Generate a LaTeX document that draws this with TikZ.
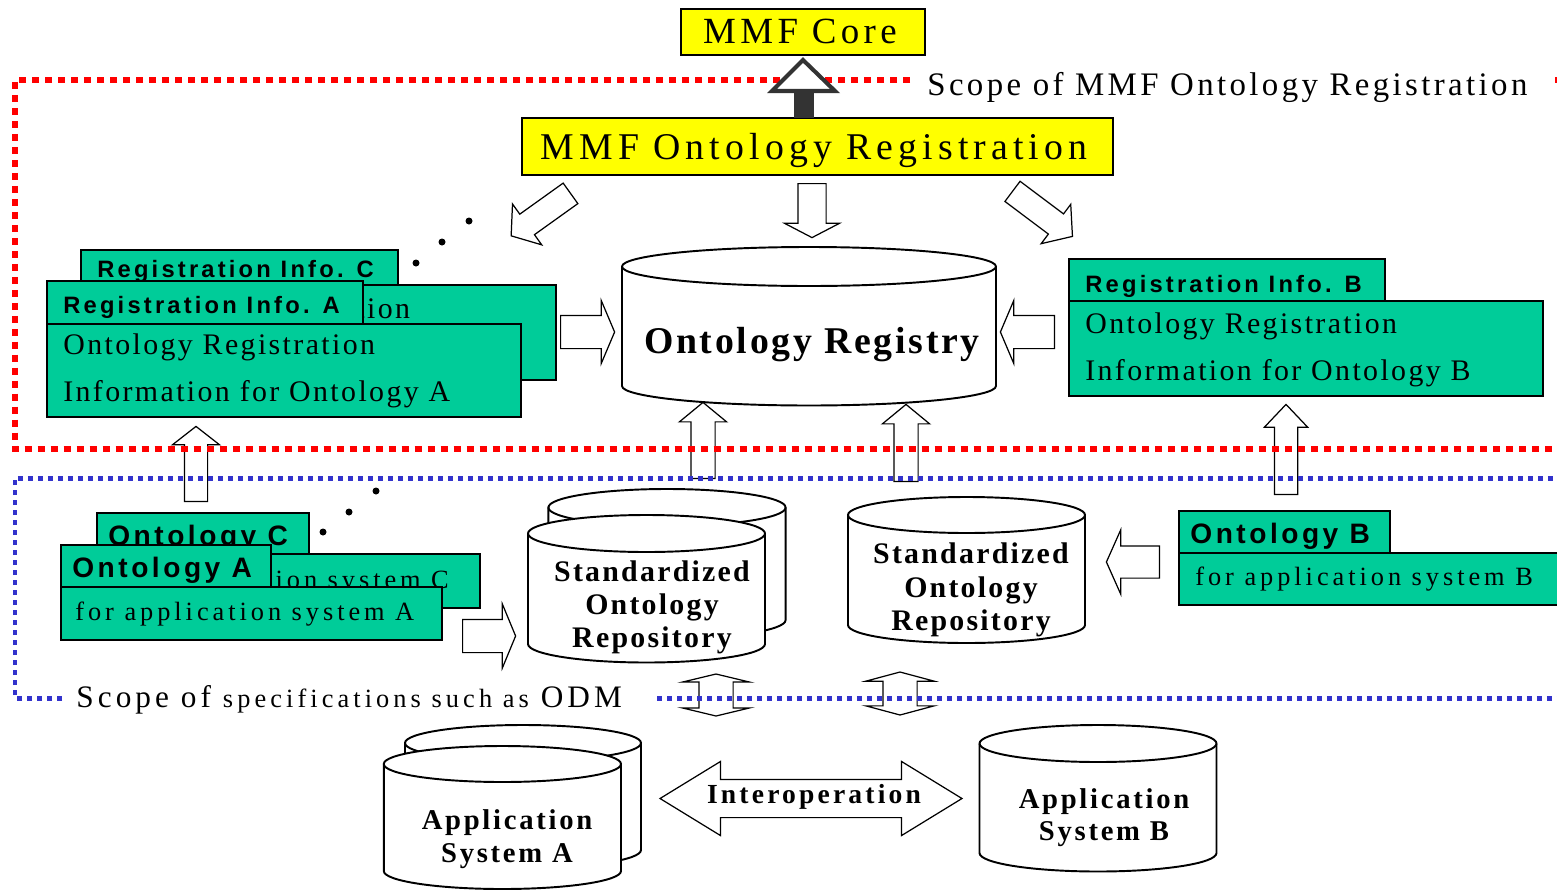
\documentclass[tikz,border=0pt]{standalone}
\usepackage{fontspec}
\setmainfont{Liberation Serif}
\newfontfamily\headfont{Liberation Sans}
\usetikzlibrary{shapes.arrows}

\definecolor{mmfyellow}{RGB}{255,255,0}
\definecolor{infogreen}{RGB}{0,204,153}
\definecolor{scopered}{RGB}{255,0,0}
\definecolor{scopeblue}{RGB}{51,51,204}
\definecolor{coregray}{RGB}{51,51,51}

\newcommand{\spaced}[1]{\addfontfeatures{LetterSpace=#1}}
% can: centre x, top rim y, bottom rim y, x radius, y radius (all in px)
\newcommand{\can}[5]{%
  \draw[canline] (#1-#4,#2) -- (#1-#4,#3)
    arc[start angle=180, end angle=360, x radius=#4*0.02cm, y radius=#5*0.02cm]
    -- (#1+#4,#2)
    arc[start angle=0, end angle=180, x radius=#4*0.02cm, y radius=#5*0.02cm] -- cycle;
  \draw[canline, fill=none] (#1+#4,#2)
    arc[start angle=0, end angle=-180, x radius=#4*0.02cm, y radius=#5*0.02cm];}

\tikzset{
  ybox/.style={draw, line width=1pt, fill=mmfyellow, inner sep=0pt, anchor=north west},
  gbox/.style={draw, line width=1.2pt, fill=infogreen, inner sep=0pt, anchor=north west},
  canline/.style={draw, fill=white, line width=1.1pt},
  ltext/.style={inner sep=0pt, anchor=base west},
  ctext/.style={inner sep=0pt, anchor=base},
  infohead/.style={ltext, font=\headfont\bfseries\fontsize{13.5}{16}\selectfont\spaced{13.5}},
  infobody/.style={ltext, font=\fontsize{17}{20}\selectfont\spaced{8}},
  onthead/.style={ltext, font=\headfont\bfseries\fontsize{16}{19}\selectfont\spaced{12.5}},
  ontbody/.style={ltext, font=\fontsize{15}{18}\selectfont\spaced{15}},
  cantext/.style={ctext, font=\bfseries\fontsize{17}{20}\selectfont\spaced{7.5}},
  apptext/.style={ctext, font=\bfseries\fontsize{16.3}{20}\selectfont\spaced{9.5}},
  barrow/.style n args={5}{single arrow, draw, fill=white, line width=0.7pt,
    inner xsep=0pt, minimum height=#1, inner ysep=#2,
    single arrow head extend=#3, single arrow tip angle=#4, rotate=#5, anchor=tail},
  darrow/.style n args={5}{double arrow, draw, fill=white, line width=0.7pt,
    inner xsep=0pt, minimum height=#1, inner ysep=#2,
    double arrow head extend=#3, double arrow tip angle=#4, rotate=#5},
  reddots/.style={scopered, line width=0.12cm, dash pattern=on 0.14cm off 0.12cm},
  bluedots/.style={scopeblue, line width=0.1cm, dash pattern=on 0.1cm off 0.1cm}
}

\begin{document}
\begin{tikzpicture}[x=0.02cm, y=-0.02cm]
  \useasboundingbox (0,0) rectangle (1557,889);
  \fill[white] (0,0) rectangle (1557,889);
  \clip (0,0) rectangle (1557,889);

  % MMF boxes
  \node[ybox, minimum width=4.88cm, minimum height=0.92cm] (core) at (680,8) {};
  \node[ctext, font=\fontsize{21}{25}\selectfont\spaced{12}] (coretext) at (800,43) {MMF Core};
  \node[ybox, minimum width=11.82cm, minimum height=1.14cm] (mmfor) at (521,117) {};
  \node[ctext, font=\fontsize{21.5}{26}\selectfont\spaced{13.5}] (mmfortext) at (814,159) {MMF Ontology Registration};

  % registry
  \can{809}{266.5}{386}{187}{19.5}
  \node[ctext, font=\bfseries\fontsize{21.5}{26}\selectfont\spaced{7.2}] (reg) at (812,353) {Ontology Registry};

  % registration info
  \node[gbox, minimum width=6.34cm, minimum height=0.72cm] (tabC) at (80,249) {};
  \node[gbox, minimum width=9.48cm, minimum height=1.9cm] (bodyC) at (81,284) {};
  \node[infohead] at (97,277) {Registration Info. C};
  \node[infobody] at (98,318) {Ontology Registration};
  \node[gbox, minimum width=6.32cm, minimum height=0.86cm] (tabA) at (46,280) {};
  \node[gbox, minimum width=9.48cm, minimum height=1.86cm] (bodyA) at (46,323) {};
  \node[infohead] at (63,313) {Registration Info. A};
  \node[infobody] at (63,354) {Ontology Registration};
  \node[infobody] at (63,401) {Information for Ontology A};
  \node[gbox, minimum width=6.32cm, minimum height=0.84cm] (tabB) at (1068,258) {};
  \node[gbox, minimum width=9.48cm, minimum height=1.9cm] (bodyB) at (1068,300) {};
  \node[infohead] at (1085,292) {Registration Info. B};
  \node[infobody] at (1085,333) {Ontology Registration};
  \node[infobody] at (1085,380) {Information for Ontology B};

  % ontologies
  \node[gbox, minimum width=4.24cm, minimum height=0.82cm] (ontCtab) at (96,512) {};
  \node[gbox, minimum width=7.66cm, minimum height=1.08cm] (ontCbody) at (96,553) {};
  \node[onthead] at (108,545) {Ontology C};
  \node[ontbody] at (111,588) {for application system C};
  \node[gbox, minimum width=4.2cm, minimum height=0.84cm] (ontAtab) at (60,544) {};
  \node[gbox, minimum width=7.62cm, minimum height=1.06cm] (ontAbody) at (60,586) {};
  \node[onthead] at (72,577) {Ontology A};
  \node[ontbody] at (75,620) {for application system A};
  \node[gbox, minimum width=4.22cm, minimum height=0.84cm] (ontBtab) at (1178,510) {};
  \node[gbox, minimum width=8cm, minimum height=1.04cm] (ontBbody) at (1178,552) {};
  \node[onthead] at (1190,543) {Ontology B};
  \node[ontbody] at (1195,585) {for application system B};

  % repositories
  \can{667}{507.5}{620}{118.6}{18.5}
  \can{646.5}{533.5}{644}{118.5}{18.5}
  \node[cantext] (stdone) at (652,581) {Standardized};
  \node[cantext] at (652,614) {Ontology};
  \node[cantext] at (652,647) {Repository};
  \can{966.5}{515}{625}{118.5}{18}
  \node[cantext] (stdtwo) at (971,563) {Standardized};
  \node[cantext] at (971,597) {Ontology};
  \node[cantext] at (971,630) {Repository};

  % application systems
  \can{523}{743}{850}{118}{18}
  \can{502.4}{764}{871}{118.6}{18}
  \node[apptext] (appA) at (507,829) {Application};
  \node[apptext] at (507,862) {System A};
  \can{1098}{743.5}{853}{118.5}{18.5}
  \node[apptext] (appB) at (1104,808) {Application};
  \node[apptext] at (1104,840) {System B};

  % block arrows
  \node[barrow={1.46cm}{0.24cm}{0.25cm}{104}{215.6}] (toinfoA) at (571,193) {};
  \node[barrow={1.08cm}{0.27cm}{0.27cm}{125}{-90}] (toreg) at (812,183) {};
  \node[barrow={1.5cm}{0.24cm}{0.24cm}{100}{-36.9}] (toinfoB) at (1012,191) {};
  \node[barrow={1.08cm}{0.32cm}{0.30cm}{134}{0}] (infoAreg) at (560,332) {};
  \node[barrow={1.08cm}{0.32cm}{0.30cm}{134}{180}] (infoBreg) at (1055,332) {};
  \node[barrow={1.52cm}{0.23cm}{0.23cm}{101}{90}] (stdoneup) at (703,479) {};
  \node[barrow={1.54cm}{0.23cm}{0.23cm}{101}{90}] (stdtwoup) at (906,482) {};
  \node[barrow={1.5cm}{0.22cm}{0.24cm}{104}{90}] (ontAup) at (196,502) {};
  \node[barrow={1.8cm}{0.22cm}{0.20cm}{87}{90}] (ontBup) at (1286,495) {};
  \node[barrow={1.06cm}{0.32cm}{0.31cm}{135}{0}] (ontAstd) at (462,636) {};
  \node[barrow={1.06cm}{0.31cm}{0.32cm}{132}{180}] (ontBstd) at (1160,562) {};
  \node[darrow={0.84cm}{0.33cm}{0.33cm}{153}{90}] (stdoneapp) at (716,695) {};
  \node[darrow={0.86cm}{0.33cm}{0.34cm}{150}{90}] (stdtwoapp) at (900,693.5) {};
  \node[darrow={6.04cm}{0.37cm}{0.36cm}{63}{0}] (interop) at (811,798.5) {};
  \node[ctext, font=\bfseries\fontsize{15.7}{19}\selectfont\spaced{11.5}] at (814,803) {Interoperation};

  \foreach \p in {(416,263),(442,242),(469,221),(323,532),(349,512),(376,491)}
    \fill \p circle[radius=0.07cm];

  % scopes
  \draw[reddots] (910,80) -- (15,80) -- (15,449) -- (1600,449);
  \draw[reddots] (1555,80) -- (1600,80);
  \node[ltext, font=\fontsize{18.7}{22}\selectfont\spaced{10.3}] (scopemmf) at (927,95) {Scope of MMF Ontology Registration};
  \draw[bluedots] (62,698) -- (15,698) -- (15,478) -- (1600,478);
  \draw[bluedots] (657,698) -- (1600,698);
  \node[ltext, font=\fontsize{17.8}{21}\selectfont\spaced{13}] (scopeodm) at (76,707)
    {Scope of {\fontsize{15}{18}\selectfont\spaced{15.5}specifications such as} ODM};

  % to MMF core
  \fill[coregray] (794,92) rectangle (814,118);
  \filldraw[coregray, fill=white, line width=2.3pt] (772,91) -- (803,60) -- (835,91) -- cycle;
\end{tikzpicture}
\end{document}
